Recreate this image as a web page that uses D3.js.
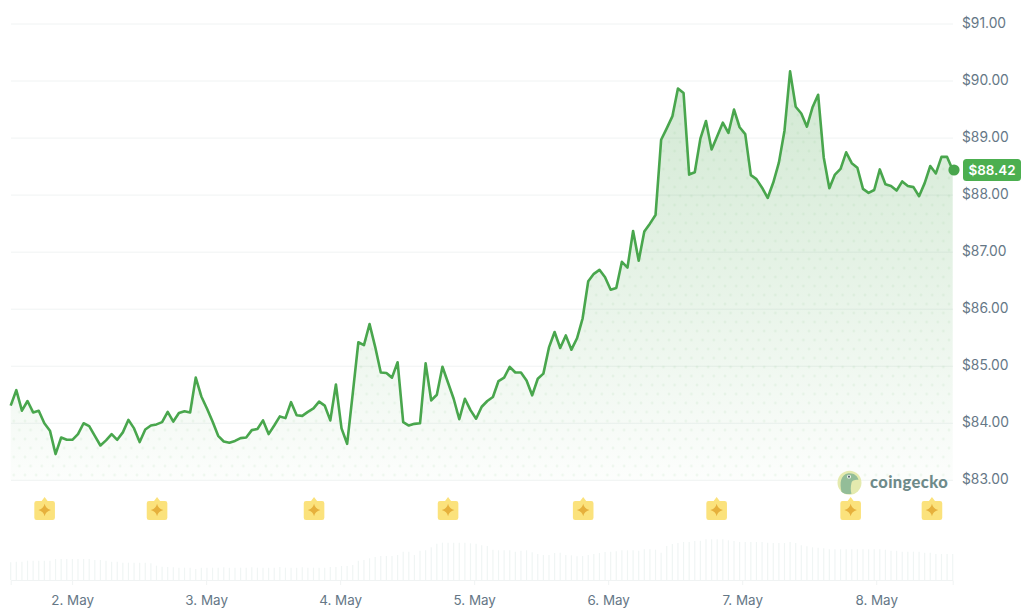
<!DOCTYPE html>
<html>
<head>
<meta charset="utf-8">
<style>
html,body{margin:0;padding:0;background:#fff;overflow:hidden}
svg{display:block}
text{font-family:Inter,"Noto Sans",sans-serif}
</style>
<script src="https://cdn.jsdelivr.net/npm/d3@7/dist/d3.min.js"></script>
</head>
<body>
<svg id="chart" width="1024" height="610"></svg>
<script>
const priceTicks = [83,84,85,86,87,88,89,90,91];
const tickDays = [2,3,4,5,6,7,8];
const lastPriceLabel = "$88.42";
const eventIndexes = [6.05,26.1,54.1,78,102.1,125.9,149.8,164.3];
const prices = [
84.31,84.58,84.22,84.39,84.19,84.22,84.00,83.87,83.46,83.75,
83.71,83.71,83.81,84.00,83.95,83.78,83.61,83.70,83.81,83.71,
83.84,84.06,83.91,83.67,83.89,83.96,83.98,84.02,84.20,84.03,
84.18,84.21,84.19,84.80,84.47,84.26,84.03,83.78,83.68,83.66,
83.69,83.74,83.75,83.88,83.90,84.05,83.81,83.96,84.12,84.09,
84.37,84.14,84.13,84.20,84.26,84.38,84.31,84.05,84.68,83.91,
83.64,84.52,85.42,85.37,85.74,85.34,84.89,84.88,84.80,85.07,
84.02,83.96,83.99,84.00,85.05,84.40,84.50,84.99,84.71,84.43,
84.07,84.43,84.23,84.08,84.29,84.39,84.46,84.74,84.80,84.99,
84.89,84.89,84.75,84.49,84.78,84.87,85.33,85.60,85.32,85.54,
85.29,85.49,85.84,86.49,86.62,86.69,86.56,86.34,86.37,86.83,
86.73,87.37,86.85,87.36,87.50,87.65,88.97,89.17,89.38,89.87,
89.79,88.36,88.40,88.99,89.30,88.80,89.03,89.27,89.09,89.50,
89.19,89.07,88.35,88.28,88.13,87.95,88.22,88.57,89.13,90.17,
89.55,89.43,89.20,89.54,89.76,88.66,88.12,88.36,88.46,88.75,
88.56,88.48,88.11,88.04,88.09,88.45,88.19,88.16,88.08,88.24,
88.16,88.14,87.98,88.21,88.51,88.38,88.67,88.67,88.44
];
const volumes = [
53,55,55,58,58,58,58,58,63,63,
63,63,63,63,63,60,60,58,55,55,
52,52,52,52,52,50,43,40,39,38,
37,37,37,33,37,37,37,37,38,37,
37,37,37,38,37,37,37,37,39,37,
37,37,38,37,37,37,37,39,39,42,
42,45,58,60,65,69,72,72,72,75,
85,85,75,88,89,98,109,112,112,112,
112,112,110,109,104,102,91,89,89,89,
85,88,89,83,78,75,75,81,82,75,
74,71,72,75,78,81,84,85,86,89,
89,89,88,92,92,91,82,102,108,111,
114,114,117,118,122,122,122,122,119,117,
114,114,114,114,114,112,111,111,111,114,
111,104,101,98,97,95,92,92,92,92,
92,92,92,92,92,92,91,88,88,85,
85,85,85,82,82,78,78,78,78
];

const startTime = Date.UTC(2025,4,1,13,0);
const endTime = Date.UTC(2025,4,8,13,42);
const timeAt = i => new Date(startTime + i*(endTime-startTime)/(prices.length-1));
const times = prices.map((_,i)=>timeAt(i));
const tickDates = tickDays.map(d=>new Date(Date.UTC(2025,4,d)));

const x = d3.scaleUtc().domain([startTime,endTime]).range([10.7,952.7]);
const y = d3.scaleLinear().domain([83,91]).range([480.3,24]);
const yVol = d3.scaleLinear().domain([0,135]).range([580,535]);

const GREEN="#4caf50", LINE="#49a64d", GRID="#f0f3f3", TEXT="#657786";
const svg = d3.select("#chart");
const defs = svg.append("defs");

const grad = defs.append("linearGradient").attr("id","fade")
  .attr("gradientUnits","userSpaceOnUse").attr("x1",0).attr("x2",0)
  .attr("y1",y(90.2)).attr("y2",y(83));
grad.append("stop").attr("offset",0).attr("stop-color","#4ea852").attr("stop-opacity",0.26);
grad.append("stop").attr("offset",0.55).attr("stop-color","#4ea852").attr("stop-opacity",0.13);
grad.append("stop").attr("offset",1).attr("stop-color","#4ea852").attr("stop-opacity",0.015);

const pat = defs.append("pattern").attr("id","dots").attr("patternUnits","userSpaceOnUse")
  .attr("width",11.2).attr("height",18).attr("x",11).attr("y",2.5);
pat.append("circle").attr("cx",2.8).attr("cy",4.5).attr("r",1.3).attr("fill","#4ea852").attr("fill-opacity",0.09);
pat.append("circle").attr("cx",8.4).attr("cy",13.5).attr("r",1.3).attr("fill","#4ea852").attr("fill-opacity",0.09);

// grid
svg.append("g").selectAll("line").data(priceTicks).join("line")
  .attr("x1",11).attr("x2",953)
  .attr("y1",d=>y(d)).attr("y2",d=>y(d))
  .attr("stroke",GRID).attr("stroke-width",1);

// area
const area = d3.area().x((d,i)=>x(times[i])).y0(y(83)).y1(d=>y(d));
svg.append("path").datum(prices).attr("d",area).attr("fill","url(#fade)");
svg.append("path").datum(prices).attr("d",area).attr("fill","url(#dots)");

// volume
svg.append("g").selectAll("line").data(volumes).join("line")
  .attr("x1",(d,i)=>x(times[i])).attr("x2",(d,i)=>x(times[i]))
  .attr("y1",yVol(0)).attr("y2",d=>yVol(d))
  .attr("stroke","#f0f5f4").attr("stroke-width",1.2);

// line
const line = d3.line().x((d,i)=>x(times[i])).y(d=>y(d));
svg.append("path").datum(prices).attr("d",line).attr("fill","none")
  .attr("stroke",LINE).attr("stroke-width",2.6).attr("stroke-linejoin","round");

// end dot
svg.append("circle").attr("cx",954).attr("cy",y(prices[prices.length-1]))
  .attr("r",5.6).attr("fill",LINE);

// y axis
const yAxis = svg.append("g").attr("transform","translate(953,-0.8)")
  .call(d3.axisRight(y).tickValues(priceTicks).tickSize(0).tickPadding(9).tickFormat(d=>"$"+d.toFixed(2)));
yAxis.select(".domain").remove();
yAxis.selectAll("text").attr("fill",TEXT).style("font-size","13.8px").style("font-family","Inter,sans-serif");

// x axis
const xAxis = svg.append("g").attr("transform","translate(0,580)")
  .call(d3.axisBottom(x).tickValues(tickDates).tickSizeOuter(0).tickSize(5).tickPadding(10.5).tickFormat(d3.utcFormat("%-d. %b")));
xAxis.select(".domain").attr("stroke",GRID);
xAxis.selectAll("line").attr("stroke",GRID);
xAxis.selectAll("text").attr("fill",TEXT).style("font-size","13.4px").style("font-family","Inter,sans-serif");

// price tag
const tag = svg.append("g").attr("transform",`translate(963,${y(prices[prices.length-1])})`);
tag.append("rect").attr("x",0).attr("y",-11).attr("width",58).attr("height",22).attr("rx",3.5).attr("fill",GREEN);
tag.append("text").attr("x",29).attr("y",5).attr("text-anchor","middle").attr("fill","#fff")
  .style("font-size","13.4px").style("font-weight",600).text(lastPriceLabel);

// watermark
const wm = svg.append("g").attr("transform","translate(849.5,482.7)");
wm.append("circle").attr("r",12).attr("fill","#e4eaae");
wm.append("path").attr("d","M-8,9 C-10,0 -9,-8 -1,-9.5 C4,-10 8,-7 9,-3 C6,-3 3,-3 2,0 C1,4 1,8 2,11 C-2,12 -6,11 -8,9Z").attr("fill","#93bd98");
wm.append("circle").attr("cx",-0.5).attr("cy",-6).attr("r",1.9).attr("fill","#fff");
wm.append("circle").attr("cx",-0.5).attr("cy",-6).attr("r",1.1).attr("fill","#51666b");
svg.append("text").attr("x",870).attr("y",488).attr("fill","#6e8a8a")
  .style("font-family","Lato,sans-serif").style("font-size","16.5px").style("font-weight",900)
  .style("letter-spacing","0.4px").text("coingecko");

// events
const ev = svg.append("g").selectAll("g").data(eventIndexes).join("g")
  .attr("transform",d=>`translate(${x(timeAt(d))},510)`);
ev.append("path").attr("d","M-8,-9 L-3,-9 L0,-13 L3,-9 L8,-9 Q10.3,-9 10.3,-6.7 L10.3,7.7 Q10.3,10 8,10 L-8,10 Q-10.3,10 -10.3,7.7 L-10.3,-6.7 Q-10.3,-9 -8,-9Z")
  .attr("fill","#fbe27c");
ev.append("path").attr("d","M0,-6.3 Q1,-1.3 6.3,0 Q1,1.3 0,6.3 Q-1,1.3 -6.3,0 Q-1,-1.3 0,-6.3Z").attr("fill","#e6b03c");
</script>
</body>
</html>
